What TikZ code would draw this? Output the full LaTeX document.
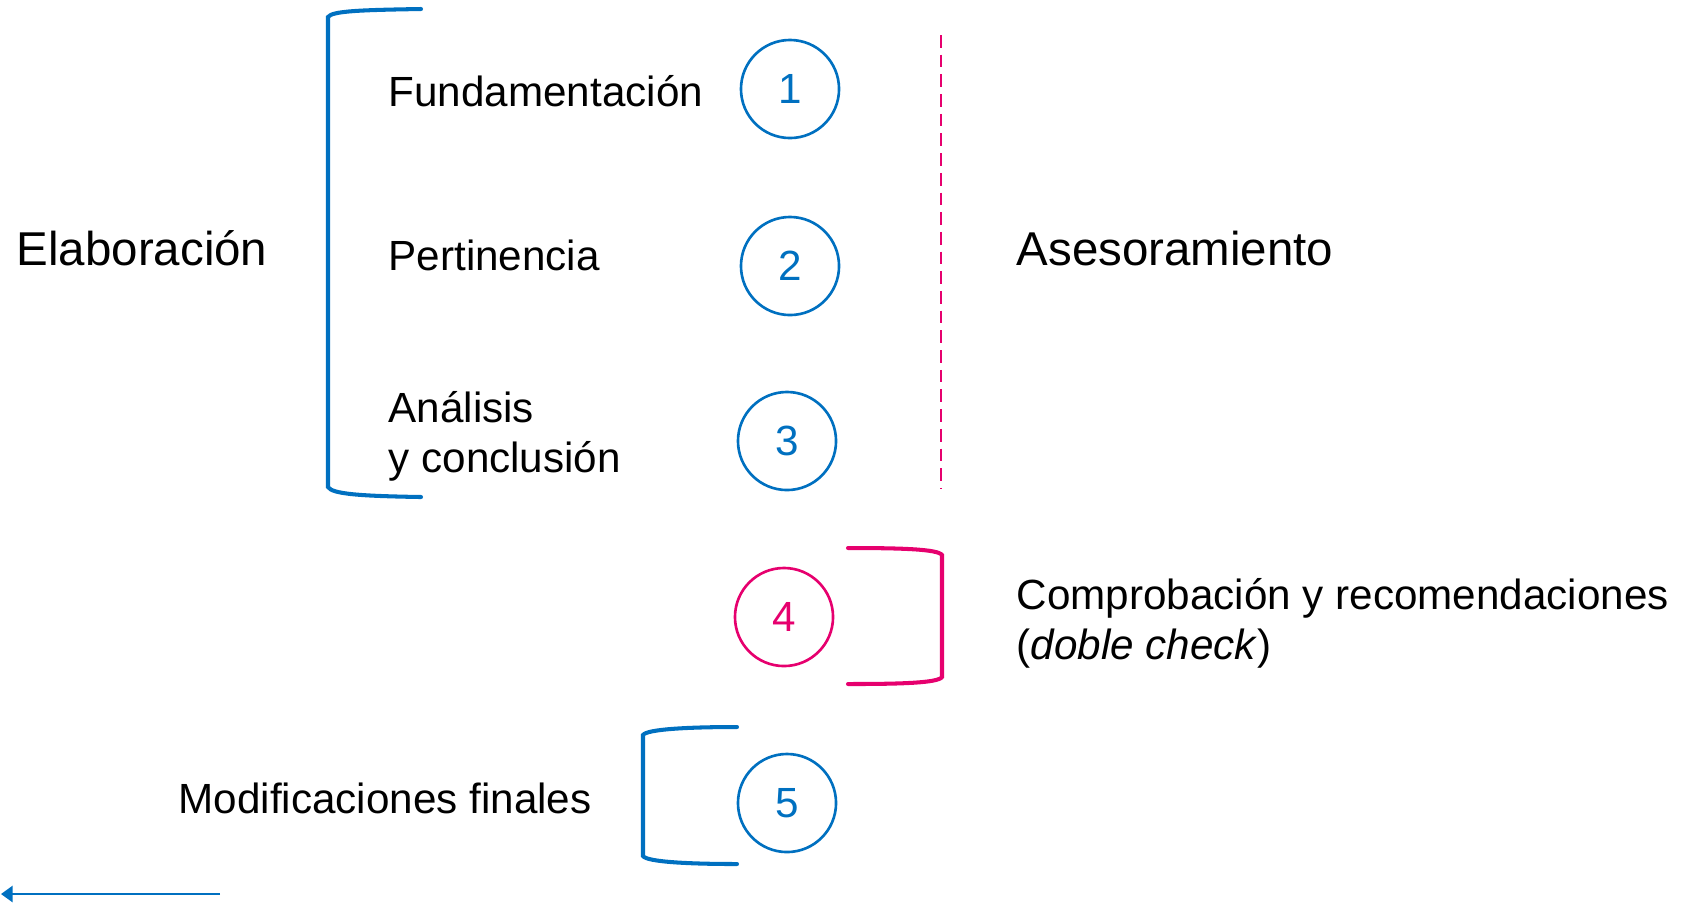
\documentclass[tikz,border=0pt]{standalone}
\usepackage{fontspec}
\setmainfont{Liberation Sans}
\usetikzlibrary{arrows.meta}
\definecolor{azul}{RGB}{0,112,192}
\definecolor{rosa}{RGB}{230,0,110}
\tikzset{
  numcirc/.style={circle, line width=0.75pt, minimum size=0.98cm, inner sep=0pt,
    font=\fontsize{12}{14.2}\selectfont},
  etiq/.style={anchor=base west, inner sep=0pt, align=left,
    font=\fontsize{12}{14.2}\selectfont},
  titulo/.style={anchor=base west, inner sep=0pt,
    font=\fontsize{13.5}{16}\selectfont},
  llave/.style={line width=1.15pt, line cap=round},
}
\begin{document}
\begin{tikzpicture}[x=0.01cm, y=-0.01cm]
    \useasboundingbox (0,0) rectangle (1683,914);
    % steps 1--5: the first three and the last in blue, the check in pink
    \foreach \n/\x/\y in {1/790/89, 2/790/266, 3/787/441, 5/787/803}
      \node[numcirc, draw=azul, text=azul] (c\n) at (\x,\y) {\n};
    \node[numcirc, draw=rosa, text=rosa] (c4) at (784,617) {4};
    % texts (two-line nodes sit on the baseline of their last line)
    \node[titulo] (elab) at (16,265) {Elaboración};
    \node[etiq] (fund) at (388,106) {Fundamentación};
    \node[etiq] (pert) at (388,270) {Pertinencia};
    \node[etiq] (anal) at (388,472) {Análisis\\y conclusión};
    \node[titulo] (ases) at (1016,265) {Asesoramiento};
    \node[etiq] (comp) at (1016,659) {Comprobación y recomendaciones\\(\textit{doble check})};
    \node[etiq] (modif) at (178,813) {Modificaciones finales};
    % brackets
    \draw[llave, azul] (421,9) .. controls (360,10) and (332,11) .. (328,17)
      -- (328,487) .. controls (332,494) and (360,496) .. (421,497);
    \draw[llave, rosa] (848,548) .. controls (900,548) and (938,549) .. (942,555)
      -- (942,677) .. controls (938,683) and (900,684) .. (848,684);
    \draw[llave, azul] (737,727) .. controls (690,727) and (647,729) .. (643,735)
      -- (643,856) .. controls (647,862) and (690,864) .. (737,864);
    % advice runs alongside steps 1--3
    \draw[rosa, line width=0.7pt, dash pattern=on 3.6pt off 2pt] (941,35) -- (941,488);
    % back arrow
    \coordinate (flechaA) at (220,894);
    \coordinate (flechaB) at (1,894);
    \draw[azul, line width=0.6pt, -{Triangle[length=3.3pt, width=4.6pt]}] (flechaA) -- (flechaB);
\end{tikzpicture}
\end{document}
